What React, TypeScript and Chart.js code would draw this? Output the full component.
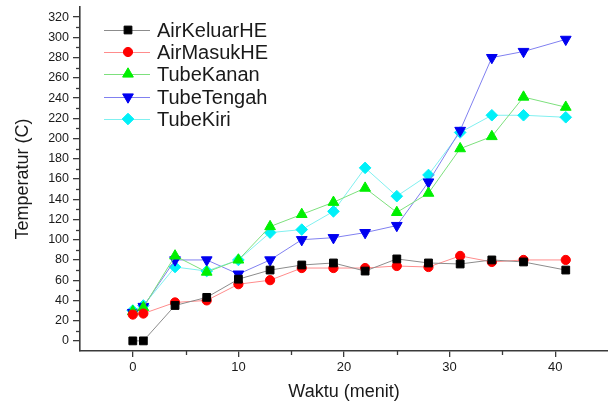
import React, { useEffect, useRef } from "react";
import { Chart, registerables } from "chart.js";
import { drawPoint } from "chart.js/helpers";

Chart.register(...registerables);

const times = [0, 1, 4, 7, 10, 13, 16, 19, 22, 25, 28, 31, 34, 37, 41];
const airKeluarHE = [0, 0, 35, 43, 61, 70, 75, 77, 69, 81, 77, 76, 80, 78, 70];
const airMasukHE = [26, 27, 38, 40, 56, 60, 72, 72, 72, 74, 73, 84, 78, 80, 80];
const tubeKanan = [29, 33, 84, 68, 80, 113, 125, 137, 151, 127, 146, 190, 202, 241, 231];
const tubeTengah = [28, 34, 80, 80, 66, 80, 100, 102, 107, 114, 157, 208, 280, 286, 298];
const tubeKiri = [30, 35, 73, 69, 80, 107, 110, 128, 171, 143, 164, 206, 223, 223, 221];

const seriesNames = ["AirKeluarHE", "AirMasukHE", "TubeKanan", "TubeTengah", "TubeKiri"];
const yTickValues = [0, 20, 40, 60, 80, 100, 120, 140, 160, 180, 200, 220, 240, 260, 280, 300, 320];
const xTickValues = [0, 10, 20, 30, 40];
const yMinorValues = [10, 30, 50, 70, 90, 110, 130, 150, 170, 190, 210, 230, 250, 270, 290, 310];
const xMinorValues = [5, 15, 25, 35];

const FONT = "'Liberation Sans', Arial, sans-serif";
const AXIS_COLOR = "#3a3a3a";
const TEXT_COLOR = "#1a1a1a";

const styles = [
  { line: "#8c8c8c", point: "#000000", pointStyle: "rect", radius: 5.5, rotation: 0 },
  { line: "#ff8c8c", point: "#ff0000", pointStyle: "circle", radius: 4.6, rotation: 0 },
  { line: "#7de07d", point: "#00f000", pointStyle: "triangle", radius: 6.2, rotation: 0 },
  { line: "#8080f0", point: "#0000f0", pointStyle: "triangle", radius: 6.2, rotation: 180 },
  { line: "#80f0f0", point: "#00f0f8", pointStyle: "rectRot", radius: 5.8, rotation: 0 },
];

const seriesValues = [airKeluarHE, airMasukHE, tubeKanan, tubeTengah, tubeKiri];

const extrasPlugin = {
  id: "extras",
  afterDraw(chart: any) {
    const ctx = chart.ctx;
    const xs = chart.scales.x;
    const ys = chart.scales.y;
    ctx.save();
    ctx.strokeStyle = AXIS_COLOR;
    ctx.lineWidth = 1.3;
    yMinorValues.forEach((v) => {
      const py = Math.round(ys.getPixelForValue(v)) + 0.5;
      ctx.beginPath();
      ctx.moveTo(xs.left, py);
      ctx.lineTo(xs.left - 4, py);
      ctx.stroke();
    });
    xMinorValues.forEach((v) => {
      const px = Math.round(xs.getPixelForValue(v)) + 0.5;
      ctx.beginPath();
      ctx.moveTo(px, ys.bottom);
      ctx.lineTo(px, ys.bottom + 4);
      ctx.stroke();
    });
    const rows = [30, 52, 74, 97, 119];
    seriesNames.forEach((name, i) => {
      const st = styles[i];
      const y = rows[i];
      ctx.strokeStyle = st.line;
      ctx.lineWidth = 1;
      ctx.beginPath();
      ctx.moveTo(104, y + 0.5);
      ctx.lineTo(150, y + 0.5);
      ctx.stroke();
      ctx.fillStyle = st.point;
      ctx.strokeStyle = st.point;
      drawPoint(ctx, { pointStyle: st.pointStyle, radius: st.radius, rotation: st.rotation, borderWidth: 1 }, 128, y);
      ctx.fillStyle = TEXT_COLOR;
      ctx.font = `20px ${FONT}`;
      ctx.textBaseline = "middle";
      ctx.textAlign = "left";
      ctx.fillText(name, 157, y + 1);
    });
    ctx.restore();
  },
};

export default function App() {
  const canvasRef = useRef<HTMLCanvasElement | null>(null);

  useEffect(() => {
    document.body.style.margin = "0";
    const canvas = canvasRef.current;
    if (!canvas) return;
    const datasets = seriesNames.map((name, i) => {
      const st = styles[i];
      return {
        label: name,
        data: times.map((t, j) => ({ x: t, y: seriesValues[i][j] })),
        borderColor: st.line,
        backgroundColor: st.point,
        borderWidth: 1,
        pointStyle: st.pointStyle,
        pointRadius: st.radius,
        pointRotation: st.rotation,
        pointBackgroundColor: st.point,
        pointBorderColor: st.point,
        pointBorderWidth: 1,
        showLine: true,
        tension: 0,
        clip: false,
      };
    });
    const chart = new Chart(canvas, {
      type: "line",
      data: { datasets: datasets as any },
      options: {
        animation: false,
        responsive: false,
        devicePixelRatio: 1,
        layout: { autoPadding: false, padding: { top: 7, right: 0, left: 0, bottom: 0 } },
        plugins: { legend: { display: false }, tooltip: { enabled: false } },
        scales: {
          x: {
            type: "linear",
            min: -5,
            max: 45,
            afterFit: (s: any) => {
              s.height = 54;
              s.paddingLeft = 0;
              s.paddingRight = 0;
            },
            afterBuildTicks: (s: any) => {
              s.ticks = xTickValues.map((v) => ({ value: v }));
            },
            grid: {
              display: true,
              drawOnChartArea: false,
              drawTicks: true,
              tickLength: 6,
              color: AXIS_COLOR,
              lineWidth: 1.3,
            },
            border: { display: true, color: AXIS_COLOR, width: 1.6 },
            ticks: {
              font: { family: FONT, size: 13 },
              color: TEXT_COLOR,
              padding: 3,
              maxRotation: 0,
              autoSkip: false,
            },
            title: {
              display: true,
              text: "Waktu (menit)",
              font: { family: FONT, size: 18 },
              color: TEXT_COLOR,
              padding: { top: 0, bottom: 2 },
            },
          },
          y: {
            type: "linear",
            min: -10,
            max: 330,
            afterFit: (s: any) => {
              s.width = 80;
              s.paddingTop = 0;
              s.paddingBottom = 0;
            },
            afterBuildTicks: (s: any) => {
              s.ticks = yTickValues.map((v) => ({ value: v }));
            },
            grid: {
              display: true,
              drawOnChartArea: false,
              drawTicks: true,
              tickLength: 7,
              color: AXIS_COLOR,
              lineWidth: 1.3,
            },
            border: { display: true, color: AXIS_COLOR, width: 1.6 },
            ticks: {
              font: { family: FONT, size: 12.5 },
              color: TEXT_COLOR,
              padding: 4,
              autoSkip: false,
            },
            title: {
              display: true,
              text: "Temperatur (C)",
              font: { family: FONT, size: 18 },
              color: TEXT_COLOR,
              padding: { top: 12, bottom: 0 },
            },
          },
        },
      },
      plugins: [extrasPlugin],
    });
    return () => chart.destroy();
  }, []);

  return (
    <div style={{ width: 608, height: 405, background: "#ffffff" }}>
      <canvas ref={canvasRef} width={608} height={405} style={{ display: "block" }} />
    </div>
  );
}
